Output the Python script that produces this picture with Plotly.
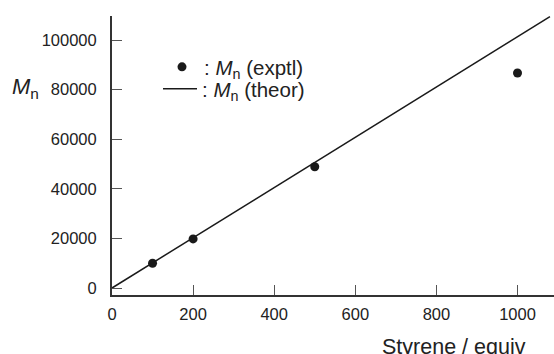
import plotly.graph_objects as go

# Data
styrene_exptl = [100, 200, 500, 1000]
mn_exptl = [10000, 19800, 48900, 86700]
styrene_theor = [0, 1080]
mn_theor = [0, 109400]

x_ticks = [0, 200, 400, 600, 800, 1000]
y_ticks = [0, 20000, 40000, 60000, 80000, 100000]

FONT = "Liberation Sans, Arial, Helvetica, sans-serif"
INK = "#222222"

W, H = 554, 354
ML, MR, MT, MB = 112, 0, 16, 59
PW, PH = W - ML - MR, H - MT - MB


def px_x(px):
    return (px - ML) / PW


def px_y(py):
    return 1 - (py - MT) / PH


fig = go.Figure()
fig.add_trace(go.Scatter(
    x=styrene_exptl, y=mn_exptl, mode="markers",
    marker=dict(size=9, color="#1a1a1a"),
    name=": <i>M</i><sub>n</sub> (exptl)", legend="legend",
))
fig.add_trace(go.Scatter(
    x=styrene_theor, y=mn_theor, mode="lines",
    line=dict(color="#1a1a1a", width=1.5),
    name=": <i>M</i><sub>n</sub> (theor)", legend="legend2",
))

legend_common = dict(
    xanchor="left", yanchor="middle",
    bgcolor="rgba(0,0,0,0)", borderwidth=0,
    font=dict(family=FONT, size=20.5, color=INK),
    itemwidth=34,
)

fig.update_layout(
    width=W, height=H,
    margin=dict(l=ML, r=MR, t=MT, b=MB, pad=0),
    paper_bgcolor="white", plot_bgcolor="white",
    font=dict(family=FONT, size=17, color=INK),
    showlegend=True,
    legend=dict(x=px_x(160), y=px_y(67.0), **legend_common),
    legend2=dict(x=px_x(158), y=px_y(89.0), **legend_common),
    xaxis=dict(
        range=[0, 1090], tickvals=x_ticks, ticktext=[str(v) for v in x_ticks],
        showgrid=False, zeroline=False,
        showline=True, linecolor="#333333", linewidth=2,
        ticks="inside", ticklen=10, tickwidth=1, tickcolor="#555555",
        tickfont=dict(family=FONT, size=16.5, color=INK),
        ticklabelstandoff=3,
    ),
    yaxis=dict(
        range=[-2822, 109680], tickvals=y_ticks, ticktext=[str(v) for v in y_ticks],
        showgrid=False, zeroline=False,
        showline=True, linecolor="#333333", linewidth=2,
        ticks="inside", ticklen=10, tickwidth=1, tickcolor="#555555",
        tickfont=dict(family=FONT, size=16.5, color=INK),
        ticklabelstandoff=10,
    ),
    annotations=[
        dict(text="<i>M</i><sub>n</sub>", xref="paper", yref="y",
             x=px_x(10), y=80000, xanchor="left", yanchor="middle",
             showarrow=False, yshift=2, font=dict(family=FONT, size=22, color=INK)),
        dict(text="Styrene / equiv", xref="paper", yref="paper",
             x=px_x(454), y=0, xanchor="center", yanchor="top",
             yshift=-38, showarrow=False,
             font=dict(family=FONT, size=21.5, color=INK)),
    ],
)

fig.write_html("out.html", config={"displayModeBar": False},
               post_script="document.body.style.margin='0';")
